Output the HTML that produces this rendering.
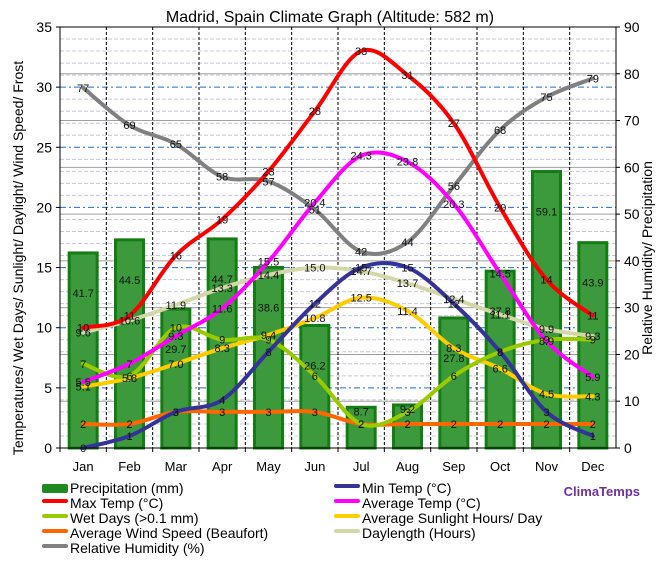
<!DOCTYPE html>
<html><head><meta charset="utf-8"><style>
body{margin:0;background:#fff;}
svg{font-family:"Liberation Sans",sans-serif;}
</style></head><body>
<svg id="c" width="661" height="558"></svg>
<script>
const months=["Jan","Feb","Mar","Apr","May","Jun","Jul","Aug","Sep","Oct","Nov","Dec"];
const precip=[41.7,44.5,29.7,44.7,38.6,26.2,8.7,9.2,27.8,37.8,59.1,43.9];
const maxT=[10,11,16,19,23,28,33,31,27,20,14,11];
const avgT=[5.5,7,9.3,11.6,15.5,20.4,24.3,23.8,20.3,14.5,8.9,5.9];
const minT=[0,1,3,4,8,12,15,15,12,8,3,1];
const wetDays=[7,6,10,9,9,6,2,3,6,8,9,9];
const sun=[5.1,5.8,7.0,8.3,9.4,10.8,12.5,11.4,8.3,6.6,4.5,4.3];
const wind=[2,2,3,3,3,3,2,2,2,2,2,2];
const daylen=[9.6,10.6,11.9,13.3,14.4,15.0,14.7,13.7,12.4,11.1,9.9,9.3];
const humidity=[77,69,65,58,57,51,42,44,56,68,75,79];
const leftTicks=[0,5,10,15,20,25,30,35];
const rightTicks=[0,10,20,30,40,50,60,70,80,90];

const NS="http://www.w3.org/2000/svg";
const svg=document.getElementById('c');
const X0=60,X1=616,Y0=448,Y1=27;
const bw=(X1-X0)/12;
const xc=i=>X0+bw*(i+0.5);
const yL=v=>Y0-(Y0-Y1)*v/35;
const yR=v=>Y0-(Y0-Y1)*v/90;
function el(t,a,txt){const e=document.createElementNS(NS,t);for(const k in a)e.setAttribute(k,a[k]);if(txt!==undefined)e.textContent=txt;svg.appendChild(e);return e;}

// grid
for(let v=1;v<35;v++){const g=el('line',{x1:X0,x2:X1,y1:yL(v),y2:yL(v),stroke:v%5==0?'#1a6fd6':'#c8c8d8','stroke-dasharray':v%5==0?'6,3,2,3':'4,2','stroke-width':1});
}
for(let v=10;v<90;v+=10){const g=el('line',{x1:X0,x2:X1,y1:yR(v),y2:yR(v),stroke:'#a0a0a0','stroke-width':1});
}
for(let i=1;i<12;i++){const g=el('line',{x1:X0+bw*i,x2:X0+bw*i,y1:Y1,y2:Y0,stroke:'#000','stroke-dasharray':'3,2','stroke-width':1});
}

// bars
precip.forEach((v,i)=>{const r=el('rect',{x:xc(i)-14,y:yR(v),width:28,height:Y0-yR(v),fill:'#3c9a3c',stroke:'#137d13','stroke-width':3});
});

function path(arr,yf){const p=arr.map((v,i)=>[xc(i),yf(v)]);let d='M'+p[0][0]+','+p[0][1];
for(let i=0;i<p.length-1;i++){const a=p[Math.max(0,i-1)],b=p[i],c=p[i+1],e=p[Math.min(p.length-1,i+2)];
d+=' C'+(b[0]+(c[0]-a[0])/6)+','+(b[1]+(c[1]-a[1])/6)+' '+(c[0]-(e[0]-b[0])/6)+','+(c[1]-(e[1]-b[1])/6)+' '+c[0]+','+c[1];}return d;}
const series=[
 [humidity,yR,'#808080','humidity',v=>v],
 [daylen,yL,'#d4d8a8','daylength',v=>v.toFixed(1)],
 [wind,yL,'#ff6600','wind-speed',v=>v],
 [sun,yL,'#ffcc00','sunlight-hours',v=>v.toFixed(1)],
 [wetDays,yL,'#99cc00','wet-days',v=>v],
 [minT,yL,'#333399','min-temp',v=>v],
 [avgT,yL,'#ff00ff','avg-temp',v=>v],
 [maxT,yL,'#ff0000','max-temp',v=>v],
];
series.forEach(s=>{const p=el('path',{d:path(s[0],s[1]),fill:'none',stroke:s[2],'stroke-width':4,'stroke-linecap':'round'});
});
precip.forEach((v,i)=>{const t=el('text',{x:xc(i),y:yR(v)+(v>20?44:8),'font-size':11,'text-anchor':'middle',fill:'#111'},v.toFixed(1));
});
series.forEach(s=>{s[0].forEach((v,i)=>{const t=el('text',{x:xc(i),y:s[1](v)+4,'font-size':11,'text-anchor':'middle',fill:'#111'},s[4](v));
});});

// axes
const ax=el('rect',{x:X0,y:Y1,width:X1-X0,height:Y0-Y1,fill:'none',stroke:'#000','stroke-width':1});

leftTicks.forEach(v=>{el('line',{x1:X0-4,x2:X0,y1:yL(v),y2:yL(v),stroke:'#000'});
const t=el('text',{x:X0-8,y:yL(v)+5,'font-size':14,'text-anchor':'end'},v);});
rightTicks.forEach(v=>{el('line',{x1:X1,x2:X1+4,y1:yR(v),y2:yR(v),stroke:'#000'});
const t=el('text',{x:X1+8,y:yR(v)+5,'font-size':14},v);});
months.forEach((m,i)=>{el('line',{x1:X0+bw*i,x2:X0+bw*i,y1:Y0,y2:Y0+4,stroke:'#000'});
const t=el('text',{x:xc(i),y:471,'font-size':13,'text-anchor':'middle'},m);});

let t=el('text',{x:330,y:22,'font-size':16,'text-anchor':'middle'},'Madrid, Spain Climate Graph (Altitude: 582 m)');
t=el('text',{x:0,y:0,'font-size':14,'text-anchor':'middle',transform:'translate(23,258) rotate(-90)'},'Temperatures/ Wet Days/ Sunlight/ Daylight/ Wind Speed/ Frost');
t=el('text',{x:0,y:0,'font-size':14,'text-anchor':'middle',transform:'translate(652,258) rotate(-90)'},'Relative Humidity/ Precipitation');

const legend=[['Precipitation (mm)','#1f8a1f',42,488],['Min Temp (°C)','#333399',334,488],['Max Temp (°C)','#ff0000',42,503],['Average Temp (°C)','#ff00ff',334,503],['Wet Days (>0.1 mm)','#99cc00',42,518],['Average Sunlight Hours/ Day','#ffcc00',334,518],['Average Wind Speed (Beaufort)','#ff6600',42,533],['Daylength (Hours)','#d4d8a8',334,533],['Relative Humidity (%)','#808080',42,548]];
legend.forEach(l=>{const r=el('rect',{x:l[2],y:l[3]-4,width:26,height:l[0].startsWith('Prec')?9:4,fill:l[1],rx:2});
const tt=el('text',{x:l[2]+28,y:l[3]+5,'font-size':14},l[0]);});
t=el('text',{x:640,y:496,'font-size':13,'font-weight':'bold','text-anchor':'end',fill:'#7030a0'},'ClimaTemps');
</script>
</body></html>
